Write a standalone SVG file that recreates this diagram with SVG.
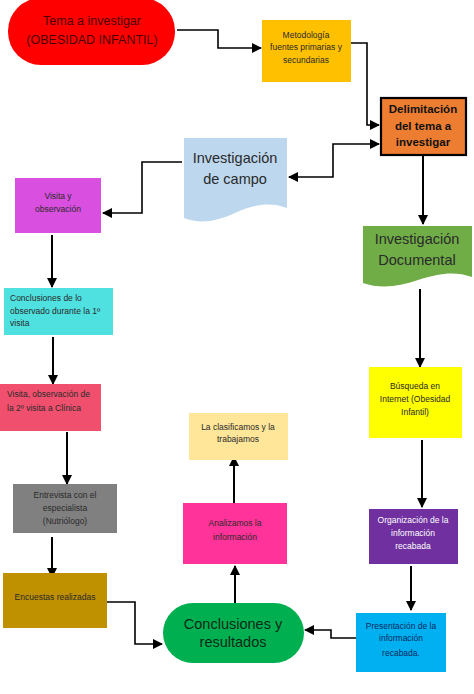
<svg xmlns="http://www.w3.org/2000/svg" width="474" height="694" viewBox="0 0 474 694">
<defs>
<marker id="ah" viewBox="0 0 10 10" refX="9" refY="5" markerWidth="10" markerHeight="10" markerUnits="userSpaceOnUse" orient="auto-start-reverse">
<path d="M0,0 L10,5 L0,10 Z" fill="#000"/>
</marker>
</defs>
<style>
text{font-family:"Liberation Sans",Arial,sans-serif;text-anchor:middle;fill:#2a2a2a}
.s{font-size:8.5px}
.m{font-size:12.5px}
.l{font-size:14.5px}
.b{font-weight:bold;font-size:11.5px;fill:#111}
.c{fill:none;stroke:#000;stroke-width:1.6;marker-end:url(#ah)}
.t{stroke-width:2}
.lft{text-anchor:start}
</style>
<rect width="474" height="694" fill="#fff"/>
<g id="connectors">
<path class="c" d="M177,30 H218 V48 H261"/>
<path class="c" d="M351,43 H367 V125 H379"/>
<path class="c" d="M289,177 H333 V144 H379" style="marker-start:url(#ah)"/>
<path class="c" d="M182,162 H142 V213 H103"/>
<path class="c t" d="M423,156 V224"/>
<path class="c t" d="M52,235 V287"/>
<path class="c t" d="M53,337 V384"/>
<path class="c t" d="M67,432 V484"/>
<path class="c t" d="M52,537 V577"/>
<path class="c" d="M107,602 H135 V644 H162"/>
<path class="c t" d="M235,603 V566"/>
<path class="c t" d="M234,503 V457"/>
<path class="c t" d="M420,289 V367"/>
<path class="c t" d="M422,440 V507"/>
<path class="c t" d="M411,566 V610"/>
<path class="c" d="M356,638 H331 V630 H305"/>
</g>
<g id="tema">
<rect x="8" y="-2" width="167" height="67" rx="33" fill="#ff0000"/>
<text class="m" x="92" y="25" style="fill:#4a0000">Tema a investigar</text>
<text class="m" x="92" y="44" style="fill:#4a0000">(OBESIDAD INFANTIL)</text>
</g>
<g id="metodologia">
<rect x="262" y="20" width="89" height="62" fill="#ffc000"/>
<text class="s" x="306" y="38">Metodología</text>
<text class="s" x="306" y="50">fuentes primarias y</text>
<text class="s" x="306" y="63">secundarias</text>
</g>
<g id="delimitacion">
<rect x="381" y="98" width="85" height="57" fill="#ed7d31" stroke="#000" stroke-width="2.2"/>
<text class="b" x="423" y="113">Delimitación</text>
<text class="b" x="423" y="130">del tema a</text>
<text class="b" x="423" y="146">investigar</text>
</g>
<g id="campo">
<path d="M184,138 H287 V208 C270,202 255,204 235,213 C215,222 200,224 184,218 Z" fill="#bdd7ee"/>
<text class="l" x="235" y="163">Investigación</text>
<text class="l" x="235" y="184">de campo</text>
</g>
<g id="visita1">
<rect x="15" y="178" width="86" height="55" fill="#d94fe0"/>
<text class="s" x="58" y="199">Visita y</text>
<text class="s" x="58" y="212">observación</text>
</g>
<g id="conclusiones1">
<rect x="4" y="288" width="109" height="47" fill="#4fe0e0"/>
<text class="s lft" x="10" y="301">Conclusiones de lo</text>
<text class="s lft" x="10" y="314">observado durante la 1º</text>
<text class="s lft" x="10" y="326">visita</text>
</g>
<g id="visita2">
<rect x="0" y="384" width="101" height="47" fill="#f0506e"/>
<text class="s lft" x="7" y="397">Visita, observación de</text>
<text class="s lft" x="7" y="411">la 2º visita a Clínica</text>
</g>
<g id="entrevista">
<rect x="13" y="484" width="104" height="49" fill="#808080"/>
<text class="s" x="65" y="498">Entrevista con el</text>
<text class="s" x="65" y="511">especialista</text>
<text class="s" x="65" y="524">(Nutriólogo)</text>
</g>
<g id="encuestas">
<rect x="3" y="573" width="104" height="55" fill="#bf9000"/>
<text class="s" x="55" y="600">Encuestas realizadas</text>
</g>
<g id="conclusiones">
<rect x="163" y="603" width="141" height="60" rx="30" fill="#00b050"/>
<text class="l" x="233" y="629" style="fill:#0f2a18">Conclusiones y</text>
<text class="l" x="233" y="647" style="fill:#0f2a18">resultados</text>
</g>
<g id="analizamos">
<rect x="183" y="503" width="104" height="61" fill="#ff3399"/>
<text class="s" x="235" y="526">Analizamos la</text>
<text class="s" x="235" y="540">información</text>
</g>
<g id="clasificamos">
<rect x="189" y="413" width="99" height="47" fill="#ffe699"/>
<text class="s" x="238" y="430">La clasificamos y la</text>
<text class="s" x="238" y="442">trabajamos</text>
</g>
<g id="documental">
<path d="M363,226 H472 V277 C455,271 440,273 418,280 C398,287 380,289 363,283 Z" fill="#70ad47"/>
<text class="l" x="417" y="244">Investigación</text>
<text class="l" x="417" y="265">Documental</text>
</g>
<g id="busqueda">
<rect x="369" y="367" width="93" height="71" fill="#ffff00"/>
<text class="s" x="415" y="389">Búsqueda en</text>
<text class="s" x="415" y="402">Internet (Obesidad</text>
<text class="s" x="415" y="415">Infantil)</text>
</g>
<g id="organizacion">
<rect x="369" y="509" width="89" height="55" fill="#7030a0"/>
<text class="s" x="413" y="523" style="fill:#fff">Organización de la</text>
<text class="s" x="413" y="536" style="fill:#fff">información</text>
<text class="s" x="413" y="549" style="fill:#fff">recabada</text>
</g>
<g id="presentacion">
<rect x="356" y="613" width="90" height="59" fill="#00b0f0"/>
<text class="s" x="401" y="629" style="fill:#0a2a60">Presentación de la</text>
<text class="s" x="401" y="641" style="fill:#0a2a60">información</text>
<text class="s" x="401" y="656" style="fill:#0a2a60">recabada.</text>
</g>
</svg>
